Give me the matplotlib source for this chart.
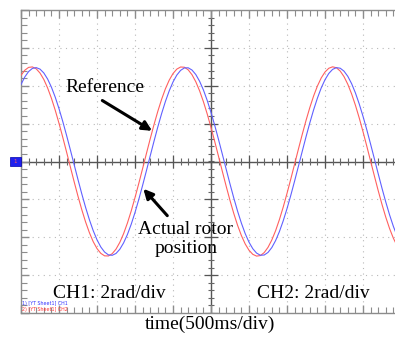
import numpy as np
import matplotlib
matplotlib.use("Agg")
import matplotlib.pyplot as plt
from matplotlib.patches import Rectangle

# time axis in divisions (500 ms/div), sampled every 0.1 div
time_div = [round(0.1 * i, 1) for i in range(101)]

# CH2: reference position (div, 2 rad/div)
reference = [2.275, 2.410, 2.485, 2.497, 2.447, 2.336, 2.167, 1.943, 1.671, 1.357,
             1.009, 0.636, 0.247, -0.148, -0.540, -0.918, -1.273, -1.597, -1.879, -2.116,
             -2.299, -2.425, -2.491, -2.494, -2.434, -2.314, -2.136, -1.905, -1.626, -1.307,
             -0.954, -0.578, -0.187, 0.208, 0.598, 0.973, 1.324, 1.642, 1.919, 2.147,
             2.322, 2.439, 2.495, 2.489, 2.420, 2.291, 2.105, 1.866, 1.580, 1.256,
             0.899, 0.520, 0.128, -0.267, -0.655, -1.028, -1.374, -1.686, -1.956, -2.177,
             -2.343, -2.451, -2.498, -2.483, -2.405, -2.267, -2.073, -1.827, -1.534, -1.204,
             -0.843, -0.462, -0.069, 0.326, 0.712, 1.081, 1.423, 1.729, 1.992, 2.205,
             2.363, 2.462, 2.500, 2.475, 2.388, 2.241, 2.039, 1.785, 1.487, 1.152,
             0.788, 0.404, 0.010, -0.384, -0.769, -1.134, -1.472, -1.772, -2.027, -2.233,
             -2.382]

# CH1: actual rotor position (div, 2 rad/div)
actual = [2.034, 2.232, 2.375, 2.458, 2.479, 2.439, 2.338, 2.178, 1.964, 1.701,
          1.395, 1.054, 0.687, 0.303, -0.088, -0.478, -0.856, -1.212, -1.537, -1.825,
          -2.067, -2.257, -2.391, -2.465, -2.477, -2.428, -2.318, -2.149, -1.928, -1.658,
          -1.346, -1.001, -0.631, -0.245, 0.147, 0.535, 0.911, 1.263, 1.584, 1.864,
          2.099, 2.281, 2.406, 2.471, 2.474, 2.415, 2.296, 2.119, 1.890, 1.613,
          1.296, 0.947, 0.573, 0.186, -0.206, -0.593, -0.965, -1.313, -1.628, -1.904,
          -2.130, -2.303, -2.419, -2.475, -2.469, -2.401, -2.273, -2.088, -1.851, -1.568,
          -1.246, -0.892, -0.516, -0.127, 0.264, 0.650, 1.019, 1.363, 1.672, 1.941,
          2.159, 2.325, 2.432, 2.478, 2.463, 2.386, 2.249, 2.056, 1.812, 1.522,
          1.194, 0.837, 0.458, 0.068, -0.323, -0.707, -1.072, -1.411, -1.715, -1.976,
          -2.187]

labels = ["Reference", "Actual rotor\nposition"]
ch_labels = ["CH1: 2rad/div", "CH2: 2rad/div"]
xlabel = "time(500ms/div)"
legend_small = ["1) [YT Sheet1] CH1", "2) [YT Sheet1] CH2"]

plt.rcParams['font.family'] = ['Liberation Serif', 'DejaVu Serif']

W, H = 395, 341
fig = plt.figure(figsize=(W / 100, H / 100), dpi=100)
fig.patch.set_facecolor('white')
L, R, T, B = 21, 401, 10, 313
ax = fig.add_axes([L / W, 1 - B / H, (R - L) / W, (B - T) / H])
ax.set_xlim(0, 10)
ax.set_ylim(-4, 4)

frame = '#8c8c8c'
for s in ax.spines.values():
    s.set_color(frame)
    s.set_linewidth(1.0)

# grid
for gx in range(1, 10):
    if gx != 5:
        ax.axvline(gx, color='#b8b8b8', lw=0.8, ls=(0, (1, 4)), zorder=0)
for gy in range(-3, 4):
    if gy != 0:
        ax.axhline(gy, color='#b8b8b8', lw=0.8, ls=(0, (1, 4)), zorder=0)

# center cross
ax.axhline(0, color='#555555', lw=1.0, zorder=1)
ax.axvline(5, color='#555555', lw=1.0, zorder=1)
mx = np.arange(0, 10.01, 0.2)
my = np.arange(-4, 4.01, 0.2)
ax.vlines(mx, -0.09, 0.09, color='#666666', lw=0.8, zorder=1)
ax.hlines(my, 4.91, 5.09, color='#666666', lw=0.8, zorder=1)
ax.vlines(np.arange(0, 11, 1), -0.17, 0.17, color='#555555', lw=0.9, zorder=1)
ax.hlines(np.arange(-4, 5, 1), 4.82, 5.18, color='#555555', lw=0.9, zorder=1)

# edge ticks
ax.set_xticks(np.arange(0, 11, 1))
ax.set_yticks(np.arange(-4, 5, 1))
ax.set_xticks(mx, minor=True)
ax.set_yticks(my, minor=True)
ax.tick_params(which='both', direction='in', top=True, bottom=True, left=True,
               right=False, labelbottom=False, labelleft=False, color=frame)
ax.tick_params(which='major', length=6, width=1.0)
ax.tick_params(which='minor', length=4, width=0.8)

# signals
ax.plot(time_div, reference, color='#ff6060', lw=0.8, zorder=3)
ax.plot(time_div, actual, color='#6060ff', lw=0.8, zorder=3)

# annotations
fs = 14
ax.text(2.2, 1.96, labels[0], fontsize=fs, ha='center', va='center')
ax.annotate('', xy=(3.45, 0.81), xytext=(2.14, 1.61),
            arrowprops=dict(arrowstyle='-|>', color='black', lw=2.2,
                            mutation_scale=14, shrinkA=0, shrinkB=0))
ax.text(4.34, -2.05, labels[1], fontsize=fs, ha='center', va='center',
        linespacing=1.15)
ax.annotate('', xy=(3.22, -0.72), xytext=(3.85, -1.43),
            arrowprops=dict(arrowstyle='-|>', color='black', lw=2.2,
                            mutation_scale=14, shrinkA=0, shrinkB=0))
ax.text(2.32, -3.49, ch_labels[0], fontsize=fs, ha='center', va='center')
ax.text(7.68, -3.49, ch_labels[1], fontsize=fs, ha='center', va='center')

ax.text(0.02, -3.75, legend_small[0], fontsize=3.4, color='#3333ff',
        ha='left', va='center', family='DejaVu Sans')
ax.text(0.02, -3.92, legend_small[1], fontsize=3.4, color='#ff3333',
        ha='left', va='center', family='DejaVu Sans')

fig.text(210 / W, 1 - 324 / H, xlabel, fontsize=fs, ha='center', va='center')

# channel marker
fig.patches.append(Rectangle((10 / W, 1 - 166 / H), 11 / W, 9 / H,
                             transform=fig.transFigure, facecolor='#2020ee',
                             edgecolor='#0000aa', lw=0.5))
fig.text(15.5 / W, 1 - 161.5 / H, '1', fontsize=4, color='#ff6060',
         ha='center', va='center', family='DejaVu Sans')

fig.savefig('out.png', dpi=100)
